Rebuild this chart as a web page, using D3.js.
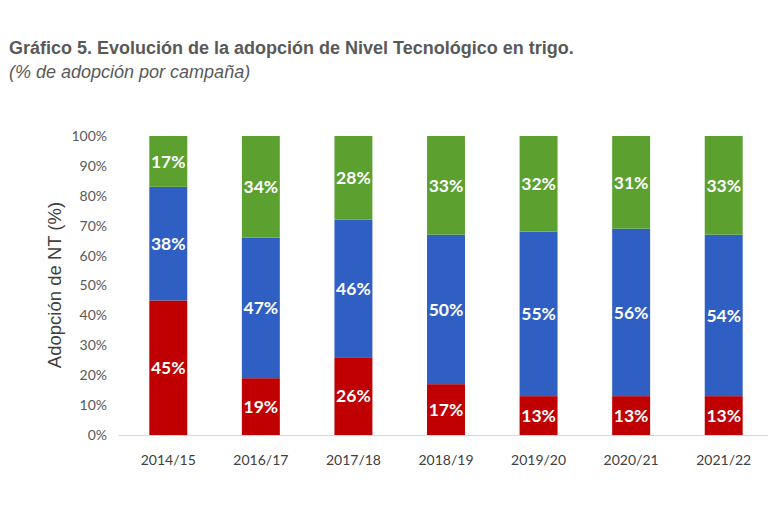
<!DOCTYPE html>
<html><head><meta charset="utf-8">
<script src="https://cdn.jsdelivr.net/npm/d3@7"></script>
<style>body{margin:0;background:#fff}svg{display:block}</style>
</head><body>
<svg id="c" width="768" height="512"></svg>
<script>
const categories = ["2014/15","2016/17","2017/18","2018/19","2019/20","2020/21","2021/22"];
const redValues   = [45,19,26,17,13,13,13];
const blueValues  = [38,47,46,50,55,56,54];
const greenValues = [17,34,28,33,32,31,33];
const yTicks = [0,10,20,30,40,50,60,70,80,90,100];
const seriesKeys = ["red","blue","green"];
const seriesColors = {red:"#C00000", blue:"#2F5FC3", green:"#5CA130"};

const rows = categories.map((c,i)=>({cat:c, red:redValues[i], blue:blueValues[i], green:greenValues[i]}));
const svg = d3.select("#c");

svg.append("text").attr("x",9).attr("y",54)
  .attr("font-family","Liberation Sans, Arial, sans-serif").attr("font-weight","bold")
  .attr("font-size",18).attr("fill","#595959")
  .text("Gráfico 5. Evolución de la adopción de Nivel Tecnológico en trigo.");
svg.append("text").attr("x",9).attr("y",78)
  .attr("font-family","Liberation Sans, Arial, sans-serif").attr("font-style","italic")
  .attr("font-size",18).attr("fill","#595959")
  .text("(% de adopción por campaña)");

const x = d3.scaleBand().domain(categories).range([122,770]).paddingInner(0.59).paddingOuter(0.295);
const y = d3.scaleLinear().domain([0,100]).range([435,136]);

const stack = d3.stack().keys(seriesKeys)(rows);

svg.append("line").attr("x1",118).attr("x2",768).attr("y1",y(0)+0.5).attr("y2",y(0)+0.5)
  .attr("stroke","#d9d9d9").attr("stroke-width",1);

const g = svg.append("g");
stack.forEach(s=>{
  g.selectAll(null).data(s).join("rect")
    .attr("x",d=>x(d.data.cat)).attr("width",x.bandwidth())
    .attr("y",d=>y(d[1])).attr("height",d=>y(d[0])-y(d[1]))
    .attr("fill",seriesColors[s.key]);
  g.selectAll(null).data(s).join("text")
    .attr("x",d=>x(d.data.cat)+x.bandwidth()/2)
    .attr("y",d=>(y(d[0])+y(d[1]))/2)
    .attr("dy","0.36em").attr("text-anchor","middle")
    .attr("font-family","Lato, sans-serif").attr("font-weight","bold").attr("font-size",17.5)
    .attr("fill","#fff")
    .text(d=>(d[1]-d[0])+"%");
});

const yAxis = d3.axisLeft(y).tickValues(yTicks).tickFormat(d=>d+"%").tickSize(0).tickPadding(0);
const ya = svg.append("g").attr("transform","translate(107,0)").call(yAxis);
ya.select(".domain").remove();
ya.selectAll("text").attr("font-family","Lato, sans-serif").attr("font-size",14).attr("fill","#595959");

const xAxis = d3.axisBottom(x).tickSize(0).tickPadding(0);
const xa = svg.append("g").attr("transform","translate(0,455)").call(xAxis);
xa.select(".domain").remove();
xa.selectAll("text").attr("font-family","Lato, sans-serif").attr("font-size",14).attr("fill","#404040");

svg.append("text").attr("transform","translate(61,285) rotate(-90)")
  .attr("text-anchor","middle")
  .attr("font-family","Liberation Sans, Arial, sans-serif").attr("font-size",18.5).attr("fill","#404040")
  .text("Adopción de NT (%)");
</script>
</body></html>
